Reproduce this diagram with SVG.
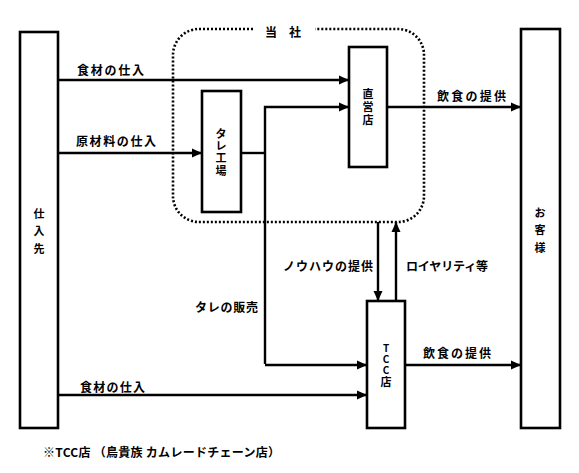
<svg xmlns="http://www.w3.org/2000/svg" width="579" height="473" viewBox="0 0 579 473">
<defs>
<marker id="ah" markerUnits="userSpaceOnUse" markerWidth="10" markerHeight="10" viewBox="0 0 10 10" refX="10" refY="5" orient="auto">
<path d="M0,0.5 L10,5 L0,9.5 Z" fill="#000"/>
</marker>
<style>
text{font-family:"Noto Sans CJK JP","Liberation Sans",sans-serif;font-size:12px;font-weight:bold;fill:#000;dominant-baseline:central}
.box{fill:#fff;stroke:#000;stroke-width:2.6}
.ln{fill:none;stroke:#000;stroke-width:2.4}
.arr{fill:none;stroke:#000;stroke-width:2.4;marker-end:url(#ah)}
.dot{fill:none;stroke:#000;stroke-width:2.6;stroke-dasharray:2 2}
.v{text-anchor:middle;font-size:11px}
.s{font-size:10px}
</style>
</defs>
<rect width="579" height="473" fill="#fff"/>

<g id="company">
<path class="dot" d="M253,29 H199 A26,26 0 0 0 173,55 V196 A26,26 0 0 0 199,222 H398 A26,26 0 0 0 424,196 V55 A26,26 0 0 0 398,29 H315"/>
<text x="265" y="31" font-size="13">当</text>
<text x="289" y="31" font-size="13">社</text>
</g>

<g id="connectors">
<line class="arr" x1="58" y1="80" x2="349" y2="80"/>
<line class="arr" x1="58" y1="153" x2="202" y2="153"/>
<polyline class="ln" points="241,153 265,153"/>
<polyline class="arr" points="265,364 265,107 349,107"/>
<line class="arr" x1="265" y1="365" x2="367" y2="365"/>
<line class="arr" x1="58" y1="395" x2="367" y2="395"/>
<line class="arr" x1="387" y1="107" x2="521" y2="107"/>
<line class="arr" x1="405" y1="365" x2="521" y2="365"/>
<line class="arr" x1="378" y1="222" x2="378" y2="301"/>
<line class="arr" x1="396" y1="301" x2="396" y2="222"/>
<text x="77" y="69" textLength="67" lengthAdjust="spacing">食材の仕入</text>
<text x="76" y="140" textLength="80" lengthAdjust="spacing">原材料の仕入</text>
<text x="195" y="306" textLength="63" lengthAdjust="spacing">タレの販売</text>
<text x="80" y="386" textLength="65" lengthAdjust="spacing">食材の仕入</text>
<text x="437" y="95" textLength="69" lengthAdjust="spacing">飲食の提供</text>
<text x="423" y="352" textLength="68" lengthAdjust="spacing">飲食の提供</text>
<text x="283" y="265" textLength="90" lengthAdjust="spacing">ノウハウの提供</text>
<text x="406" y="265" textLength="82" lengthAdjust="spacing">ロイヤリティ等</text>
</g>

<g id="supplier">
<rect class="box" x="20" y="32" width="38" height="396"/>
<text class="v" x="39" y="213">仕</text>
<text class="v" x="39" y="230">入</text>
<text class="v" x="39" y="248">先</text>
</g>

<g id="customer">
<rect class="box" x="521" y="29" width="39" height="399"/>
<text class="v" x="540" y="212">お</text>
<text class="v" x="540" y="229">客</text>
<text class="v" x="540" y="247">様</text>
</g>

<g id="direct-store">
<rect class="box" x="349" y="47" width="38" height="120"/>
<text class="v" x="368" y="93">直</text>
<text class="v" x="368" y="106">営</text>
<text class="v" x="368" y="119">店</text>
</g>

<g id="sauce-factory">
<rect class="box" x="202" y="91" width="39" height="121"/>
<text class="v" x="221" y="133">タ</text>
<text class="v" x="221" y="145">レ</text>
<text class="v" x="221" y="157">工</text>
<text class="v" x="221" y="170">場</text>
</g>

<g id="tcc-store">
<rect class="box" x="367" y="301" width="38" height="127"/>
<text class="v s" x="386" y="347">T</text>
<text class="v s" x="386" y="358">C</text>
<text class="v s" x="386" y="369">C</text>
<text class="v" x="386" y="381">店</text>
</g>

<g id="note">
<text x="43" y="451" textLength="237" lengthAdjust="spacing">※TCC店 （鳥貴族 カムレードチェーン店）</text>
</g>
</svg>
